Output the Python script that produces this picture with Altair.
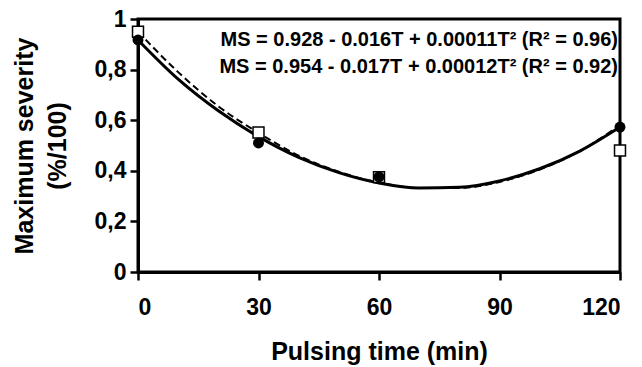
import altair as alt
import pandas as pd

# observed points
t_obs = [0, 30, 60, 120]
circle_vals = [0.917, 0.51, 0.376, 0.573]
square_vals = [0.95, 0.551, 0.375, 0.48]

# fitted curves
t_curve = [0, 10, 20, 30, 40, 50, 60, 70, 80, 90, 100, 110, 120]
solid_vals = [0.917, 0.762, 0.637, 0.535, 0.453, 0.393, 0.352, 0.332, 0.335, 0.36, 0.408, 0.478, 0.573]
dashed_vals = [0.95, 0.79, 0.655, 0.55, 0.46, 0.396, 0.354, 0.332, 0.332, 0.356, 0.405, 0.478, 0.58]

eq_lines = ["MS = 0.928 - 0.016T + 0.00011T\u00b2 (R\u00b2 = 0.96)",
            "MS = 0.954 - 0.017T + 0.00012T\u00b2 (R\u00b2 = 0.92)"]

pts_c = pd.DataFrame({"t": t_obs, "v": circle_vals})
pts_s = pd.DataFrame({"t": t_obs, "v": square_vals})
cur_s = pd.DataFrame({"t": t_curve, "v": solid_vals})
cur_d = pd.DataFrame({"t": t_curve, "v": dashed_vals})
eq = pd.DataFrame({"txt": eq_lines, "y": [0.918, 0.812]})

FONT = "Liberation Sans"

x = alt.X("t:Q", scale=alt.Scale(domain=[0, 120], nice=False),
          axis=alt.Axis(values=[0, 30, 60, 90, 120], title="Pulsing time (min)",
                        grid=False))
y = alt.Y("v:Q", scale=alt.Scale(domain=[0, 1], nice=False),
          axis=alt.Axis(values=[0, 0.2, 0.4, 0.6, 0.8, 1.0],
                        title=["Maximum severity", "(%/100)"], grid=False,
                        labelExpr="datum.value == 0 ? '0' : datum.value == 1 ? '1' : replace(format(datum.value, '.1f'), '.', ',')"))

solid = alt.Chart(cur_s).mark_line(color="black", strokeWidth=3, interpolate="monotone").encode(x=x, y=y)
dashed = alt.Chart(cur_d).mark_line(color="black", strokeWidth=2, strokeDash=[7, 4], interpolate="monotone").encode(x=x, y=y)
squares = alt.Chart(pts_s).mark_point(shape="square", filled=True, fill="white", stroke="black",
                                       strokeWidth=1.5, size=120, opacity=1).encode(x=x, y=y)
circles = alt.Chart(pts_c).mark_circle(color="black", size=120, opacity=1).encode(x=x, y=y)
text = alt.Chart(eq).mark_text(align="right", baseline="middle", font=FONT, fontWeight="bold",
                               fontSize=20, color="black").encode(
    x=alt.value(480), y=alt.Y("y:Q", scale=alt.Scale(domain=[0, 1], nice=False)), text="txt:N")

chart = alt.layer(dashed, solid, squares, circles, text).properties(
    width=482, height=253,
    autosize=alt.AutoSizeParams(type="none"),
    padding={"left": 138, "top": 19, "right": 22, "bottom": 95},
).configure_view(stroke="black", strokeWidth=3).configure_axis(
    domainColor="black", domainWidth=3, tickColor="black", tickWidth=2.5, tickSize=8,
    labelFont=FONT, labelFontWeight="bold", labelFontSize=23, labelColor="black",
    titleFont=FONT, titleFontWeight="bold", titleFontSize=25, titleColor="black",
).configure_axisX(labelPadding=16, titlePadding=20).configure_axisY(
    labelPadding=4, titlePadding=24, titleLineHeight=33)

chart.save("out.html", embed_options={"renderer": "svg", "actions": False})
